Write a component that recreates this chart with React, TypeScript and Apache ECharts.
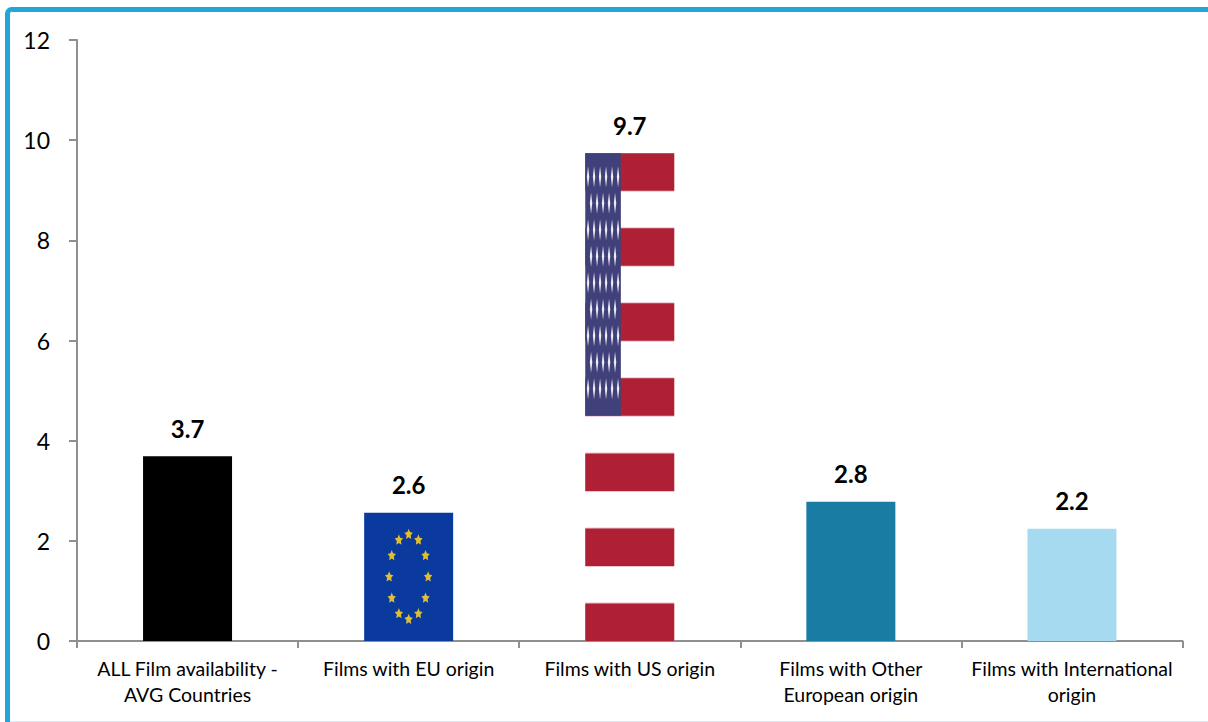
import React, { useEffect, useRef } from "react";
import * as echarts from "echarts";

const categories = [
  "ALL Film availability -\nAVG Countries",
  "Films with EU origin",
  "Films with US origin",
  "Films with Other\nEuropean origin",
  "Films with International\norigin",
];
const values = [3.69, 2.56, 9.74, 2.78, 2.24];
const barColors = ["#000000", "#0B3A9E", "#FFFFFF", "#197CA3", "#A6DAF0"];
const FONT = "Lato, 'Open Sans', sans-serif";
const BAR_W = 89;

function starPoints(cx: number, cy: number, r: number) {
  const pts: number[][] = [];
  for (let i = 0; i < 10; i++) {
    const a = -Math.PI / 2 + (i * Math.PI) / 5;
    const rr = i % 2 === 0 ? r : r * 0.5;
    pts.push([cx + rr * Math.cos(a), cy + 1.3 * rr * Math.sin(a)]);
  }
  return pts;
}

function flagItem(params: any, api: any) {
  const idx = api.value(0);
  const top = api.coord([idx, api.value(1)]);
  const base = api.coord([idx, 0]);
  const left = top[0] - BAR_W / 2;
  const h = base[1] - top[1];
  const children: any[] = [];
  if (idx === 1) {
    const cx = top[0];
    const cy = top[1] + h * 0.5;
    for (let i = 0; i < 12; i++) {
      const a = (i * Math.PI) / 6;
      children.push({
        type: "polygon",
        shape: { points: starPoints(cx + 19.5 * Math.sin(a), cy - 42.5 * Math.cos(a), 4.4) },
        style: { fill: "#DDBE35" },
      });
    }
  }
  if (idx === 2) {
    const sh = h / 13;
    for (let i = 0; i < 13; i += 2) {
      const y0 = top[1] + i * sh;
      children.push({
        type: "rect",
        shape: { x: left, y: i === 0 ? y0 : y0 - 1, width: BAR_W, height: i === 0 || i === 12 ? sh + 1 : sh + 2 },
        style: { fill: "#EDC6CD" },
      });
      children.push({
        type: "rect",
        shape: { x: left, y: y0, width: BAR_W, height: sh },
        style: { fill: "#B02035" },
      });
    }
    const cantonW = BAR_W * 0.4;
    const cantonH = sh * 7;
    children.push({
      type: "rect",
      shape: { x: left, y: top[1], width: cantonW, height: cantonH },
      style: { fill: "#40407A" },
    });
    for (let r = 0; r < 9; r++) {
      const odd = r % 2 === 1;
      const n = odd ? 5 : 6;
      for (let c = 0; c < n; c++) {
        const x = left + 2.8 + (odd ? 3 : 0) + c * 6;
        const y = top[1] + 23.5 + r * 26.5;
        children.push({
          type: "polygon",
          shape: { points: [[x, y - 10.5], [x + 1.2, y], [x, y + 10.5], [x - 1.2, y]] },
          style: { fill: "#FFFFFF", opacity: 0.9 },
        });
      }
    }
  }
  return { type: "group", children };
}

export default function App() {
  const ref = useRef<HTMLDivElement>(null);
  useEffect(() => {
    document.body.style.margin = "0";
    const chart = echarts.init(ref.current!, undefined, { renderer: "svg" });
    chart.setOption({
      animation: false,
      backgroundColor: "#FFFFFF",
      textStyle: { fontFamily: FONT },
      grid: { left: 77, top: 40, width: 1105.5, height: 601, containLabel: false },
      xAxis: {
        type: "category",
        data: categories,
        axisLine: { show: true, lineStyle: { color: "#8F8F8F", width: 2 } },
        axisTick: { show: true, alignWithLabel: false, length: 7, lineStyle: { color: "#8F8F8F", width: 2 } },
        axisLabel: { color: "#000000", fontSize: 19.5, lineHeight: 26, margin: 14, fontFamily: FONT, interval: 0 },
      },
      yAxis: {
        type: "value",
        min: 0,
        max: 12,
        interval: 2,
        splitLine: { show: false },
        axisLine: { show: true, lineStyle: { color: "#8F8F8F", width: 2 } },
        axisTick: { show: true, length: 8, lineStyle: { color: "#8F8F8F", width: 2 } },
        axisLabel: { color: "#000000", fontSize: 23, margin: 27, fontFamily: FONT },
      },
      series: [
        {
          type: "bar",
          barWidth: BAR_W,
          data: values.map((v, i) => ({ value: v, itemStyle: { color: barColors[i] } })),
          label: {
            show: true,
            position: "top",
            distance: 16,
            color: "#000000",
            fontSize: 24,
            fontWeight: "bold",
            fontFamily: FONT,
            formatter: (p: any) => Number(p.value).toFixed(1),
          },
        },
        {
          type: "custom",
          renderItem: flagItem,
          data: values.map((v, i) => [i, v]),
          encode: { x: 0, y: 1 },
          silent: true,
          z: 3,
        },
      ],
      graphic: [
        {
          type: "rect",
          silent: true,
          shape: { x: 7.5, y: 9.5, width: 1300, height: 800, r: 4 },
          style: { fill: "none", stroke: "#22A5D8", lineWidth: 5 },
        },
        {
          type: "line",
          silent: true,
          shape: { x1: 10, y1: 721.5, x2: 1208, y2: 721.5 },
          style: { stroke: "#D8EEF7", lineWidth: 1 },
        },
      ],
    });
    return () => chart.dispose();
  }, []);
  return <div ref={ref} style={{ width: 1208, height: 722 }} />;
}
